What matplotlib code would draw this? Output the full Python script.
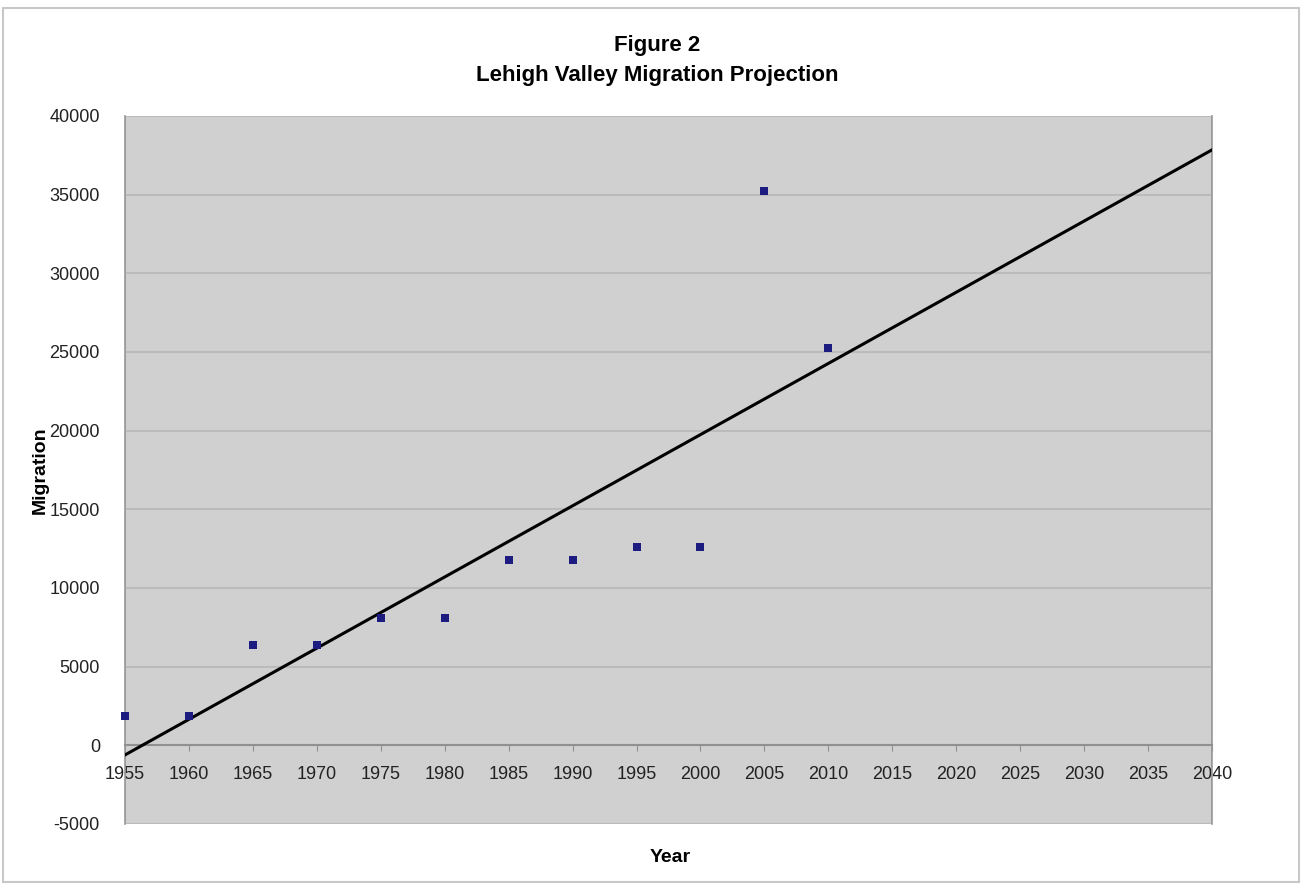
import numpy as np
import matplotlib
matplotlib.use("Agg")
import matplotlib.pyplot as plt
from matplotlib.patches import Rectangle

plt.rcParams['font.family'] = ['Liberation Sans', 'DejaVu Sans']
plt.rcParams['axes.unicode_minus'] = False

# Data
years = [1955, 1960, 1965, 1970, 1975, 1980, 1985, 1990, 1995, 2000, 2005, 2010]
migration = [1850, 1850, 6400, 6400, 8100, 8100, 11800, 11800, 12600, 12600, 35250, 25230]
x_ticks = list(range(1955, 2041, 5))
y_ticks = list(range(-5000, 40001, 5000))

fig = plt.figure(figsize=(13.02, 8.84), dpi=100)
ax = fig.add_axes([125 / 1302, 1 - 824 / 884, (1212 - 125) / 1302, (824 - 116) / 884])
ax.set_facecolor('#d0d0d0')

# Linear trend line from the data, extended to 2040
coef = np.polyfit(years, migration, 1)
trend_x = np.array([1955, 2040])
ax.plot(trend_x, np.polyval(coef, trend_x), color='black', linewidth=2.2, zorder=3)

ax.scatter(years, migration, marker='s', s=38, color='#1c1c80', zorder=4,
           linewidths=0, clip_on=False)

ax.set_xlim(1955, 2040)
ax.set_ylim(-5000, 40000)
ax.set_xticks(x_ticks)
ax.set_yticks(y_ticks)
ax.tick_params(axis='both', labelsize=13, colors='#222222')
ax.tick_params(axis='y', length=0, pad=18)
ax.tick_params(axis='x', direction='out', length=4, color='#909090', pad=11)
ax.yaxis.grid(True, color='#bbbbbb', linewidth=1.5)
ax.set_axisbelow(True)

ax.spines['bottom'].set_position(('data', 0))
ax.spines['bottom'].set_color('#909090')
ax.spines['bottom'].set_linewidth(1.5)
for side in ['left', 'right', 'top']:
    ax.spines[side].set_color('#999999')
    ax.spines[side].set_linewidth(1.2)
ax.spines['top'].set_visible(False)

# bottom edge of the plot area
ax.add_patch(Rectangle((0, 0), 1, 1, transform=ax.transAxes, fill=False,
                       edgecolor='#999999', linewidth=1.2, zorder=0.5))

fig.text(40 / 1302, 1 - 470 / 884, 'Migration', rotation=90, ha='center', va='center',
         fontsize=14, fontweight='bold')
fig.text(670 / 1302, 1 - 857 / 884, 'Year', ha='center', va='center',
         fontsize=14, fontweight='bold')
fig.text(657 / 1302, 1 - 45 / 884, 'Figure 2', ha='center', va='center',
         fontsize=16, fontweight='bold')
fig.text(657 / 1302, 1 - 75 / 884, 'Lehigh Valley Migration Projection',
         ha='center', va='center', fontsize=16, fontweight='bold')

# outer chart border
fig.patches.append(Rectangle((3 / 1302, 2 / 884), 1296 / 1302, 874 / 884,
                             transform=fig.transFigure, fill=False,
                             edgecolor='#c8c8c8', linewidth=1.5))

fig.savefig('out.png', dpi=100)
